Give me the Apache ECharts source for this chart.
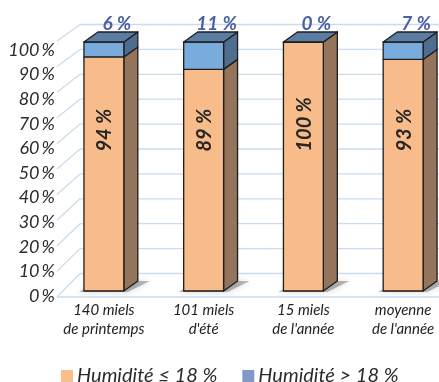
<!DOCTYPE html>
<html>
<head>
<meta charset="utf-8">
<script src="https://cdn.jsdelivr.net/npm/echarts@6/dist/echarts.min.js"></script>
<style>
  html, body { margin: 0; padding: 0; background: #fff; }
  #chart { width: 439px; height: 382px; }
</style>
</head>
<body>
<div id="chart"></div>
<script>
// Categories (two-line labels) and the share of samples per moisture class
const categories = ['140 miels\nde printemps', '101 miels\nd\'été', '15 miels\nde l\'année', 'moyenne\nde l\'année'];
const lowHumidity = [94, 89, 100, 93];   // Humidité ≤ 18 %
const highHumidity = [6, 11, 0, 7];      // Humidité > 18 %
const yTicks = [0, 10, 20, 30, 40, 50, 60, 70, 80, 90, 100];
const seriesNames = ['Humidité ≤ 18 %', 'Humidité > 18 %'];

const FONT = 'Lato, "Open Sans", sans-serif';
const DEPTH_X = 14, DEPTH_Y = -10;

const chart = echarts.init(document.getElementById('chart'), null, { renderer: 'canvas' });

// One 3D-looking block: front face, right side, optional top face, floor shadow
function block(api, lo, hi, front, side, top, withShadow) {
  const cat = api.value(0);
  const pLo = api.coord([cat, lo]);
  const pHi = api.coord([cat, hi]);
  const w = api.size([1, 0])[0] * 0.4;
  const x0 = pLo[0] - w / 2, x1 = pLo[0] + w / 2;
  const yb = pLo[1], yt = pHi[1];
  const stroke = { stroke: '#1e1e1e', lineWidth: 1.3, lineJoin: 'round' };
  const kids = [];
  if (withShadow) {
    kids.push({
      type: 'polygon',
      shape: { points: [[x0 - 5, yb + 1], [x1 + 4, yb + 1], [x1 + DEPTH_X + 12, yb + DEPTH_Y], [x0 + DEPTH_X, yb + DEPTH_Y]] },
      style: { fill: 'rgba(60,60,60,0.35)', shadowBlur: 6, shadowColor: 'rgba(0,0,0,0.45)' }
    });
  }
  kids.push({
    type: 'polygon',
    shape: { points: [[x1, yt], [x1 + DEPTH_X, yt + DEPTH_Y], [x1 + DEPTH_X, yb + DEPTH_Y], [x1, yb]] },
    style: Object.assign({ fill: side }, stroke)
  });
  kids.push({
    type: 'rect',
    shape: { x: x0, y: yt, width: w, height: yb - yt },
    style: Object.assign({ fill: front }, stroke)
  });
  if (top) {
    kids.push({
      type: 'polygon',
      shape: { points: [[x0, yt], [x0 + DEPTH_X, yt + DEPTH_Y], [x1 + DEPTH_X, yt + DEPTH_Y], [x1, yt]] },
      style: Object.assign({ fill: top }, stroke)
    });
  }
  return { kids, cx: pLo[0], x0, x1 };
}

const lowData = categories.map((c, i) => [i, 0, lowHumidity[i]]);
const highData = categories.map((c, i) => [i, lowHumidity[i], lowHumidity[i] + highHumidity[i], highHumidity[i]]);
const gridData = yTicks.map(v => [0, v]);

const option = {
  animation: false,
  backgroundColor: '#ffffff',
  grid: [
    { left: 54, width: 399, top: 42, bottom: 91, outerBoundsMode: 'none', containLabel: false },   // blocks
    { left: 57, width: 380, top: 50, bottom: 86, outerBoundsMode: 'none', containLabel: false }    // percentage labels
  ],
  xAxis: [
    {
      type: 'category', gridIndex: 0, data: categories,
      axisLine: { show: false }, axisTick: { show: false }, splitLine: { show: false },
      axisLabel: {
        margin: 10, fontFamily: FONT, fontStyle: 'italic', fontSize: 15,
        lineHeight: 19, color: '#222', interval: 0
      }
    },
    { type: 'category', gridIndex: 1, data: categories, show: false }
  ],
  yAxis: [
    { type: 'value', gridIndex: 0, min: 0, max: 100, interval: 10, show: false },
    {
      type: 'value', gridIndex: 1, min: 0, max: 100, interval: 10,
      axisLine: { show: false }, axisTick: { show: false }, splitLine: { show: false },
      axisLabel: {
        margin: 2, formatter: '{value}\u2009%', fontFamily: FONT, fontStyle: 'italic',
        fontSize: 18, color: '#2b2b2b'
      }
    }
  ],
  legend: {
    data: seriesNames,
    left: 56, top: 361,
    itemWidth: 12, itemHeight: 12, itemGap: 25,
    icon: 'rect',
    textStyle: { fontFamily: FONT, fontStyle: 'italic', fontSize: 20, color: '#2b2b2b', padding: [0, 0, 0, -1] }
  },
  series: [
    {
      // back-wall grid lines with their receding floor diagonals
      type: 'custom', name: 'grid', xAxisIndex: 0, yAxisIndex: 0, silent: true, clip: false,
      data: gridData, z: 0,
      renderItem: function (params, api) {
        const v = api.value(1);
        const y = api.coord([0, v])[1];
        const cs = params.coordSys;
        const fx = cs.x + 3, bx = cs.x + 26;
        const fy = y + 6 - 0.07 * v, by = y - 17.5;
        const line = { stroke: '#c9dcf0', lineWidth: 1.3 };
        const kids = [
          { type: 'line', shape: { x1: fx, y1: fy, x2: bx, y2: by }, style: line },
          { type: 'line', shape: { x1: bx, y1: by, x2: api.getWidth(), y2: by }, style: line }
        ];
        if (v === 0) {
          kids.push({ type: 'line', shape: { x1: fx, y1: fy, x2: api.getWidth(), y2: fy }, style: line });
        }
        return { type: 'group', children: kids };
      }
    },
    {
      type: 'custom', name: seriesNames[0], xAxisIndex: 0, yAxisIndex: 0, clip: false,
      itemStyle: { color: '#f9bf8a' },
      data: lowData, z: 2,
      renderItem: function (params, api) {
        const hi = api.value(2);
        const b = block(api, 0, hi, '#f8bb8a', '#94745a', null, true);
        const anchor = api.coord([api.value(0), 56]);
        b.kids.push({
          type: 'text', x: b.cx + 1, y: anchor[1], rotation: Math.PI / 2,
          style: {
            text: hi + ' %', x: 0, y: 0, align: 'left', verticalAlign: 'middle',
            fontFamily: FONT, fontStyle: 'italic', fontWeight: 'bold', fontSize: 20, fill: '#262626'
          }
        });
        return { type: 'group', children: b.kids };
      }
    },
    {
      type: 'custom', name: seriesNames[1], xAxisIndex: 0, yAxisIndex: 0, clip: false,
      itemStyle: { color: '#8497c9' },
      data: highData, z: 3,
      renderItem: function (params, api) {
        const lo = api.value(1), hi = api.value(2), share = api.value(3);
        const b = block(api, lo, hi, '#79abdc', '#4f6d8f', '#5b7ca3', false);
        const top = api.coord([api.value(0), hi]);
        b.kids.push({
          type: 'text', x: b.cx + 13, y: top[1] - 18,
          style: {
            text: share + ' %', align: 'center', verticalAlign: 'middle',
            fontFamily: FONT, fontStyle: 'italic', fontWeight: 'bold', fontSize: 19, fill: '#4a60a6'
          }
        });
        return { type: 'group', children: b.kids };
      }
    }
  ]
};

chart.setOption(option);
</script>
</body>
</html>
